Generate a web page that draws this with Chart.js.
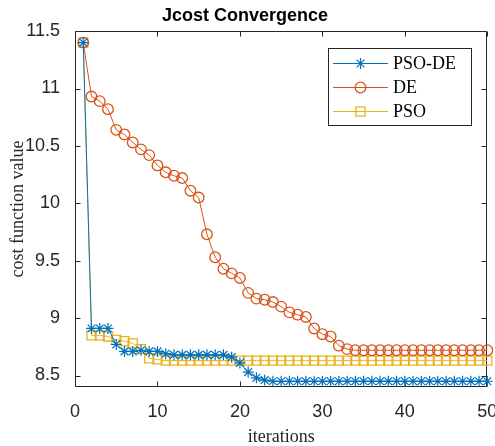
<!DOCTYPE html>
<html>
<head>
<meta charset="utf-8">
<script src="https://cdn.jsdelivr.net/npm/chart.js@4"></script>
<style>
  html, body { margin: 0; padding: 0; background: #fff; }
  canvas { display: block; }
</style>
</head>
<body>
<canvas id="c" width="495" height="446"></canvas>
<script>
// ---- data ----
const iterations = [1,2,3,4,5,6,7,8,9,10,11,12,13,14,15,16,17,18,19,20,21,22,23,24,25,
  26,27,28,29,30,31,32,33,34,35,36,37,38,39,40,41,42,43,44,45,46,47,48,49,50];
const psoDE = [11.40, 8.91, 8.91, 8.91, 8.77, 8.71, 8.71, 8.72, 8.71, 8.71,
  8.69, 8.68, 8.68, 8.68, 8.68, 8.68, 8.68, 8.68, 8.66, 8.61,
  8.53, 8.48, 8.46, 8.45, 8.45, 8.45, 8.45, 8.45, 8.45, 8.45,
  8.45, 8.45, 8.45, 8.45, 8.45, 8.45, 8.45, 8.45, 8.45, 8.45,
  8.45, 8.45, 8.45, 8.45, 8.45, 8.45, 8.45, 8.45, 8.45, 8.45];
const de = [11.40, 10.93, 10.89, 10.82, 10.64, 10.60, 10.53, 10.47, 10.42, 10.33,
  10.27, 10.24, 10.22, 10.11, 10.05, 9.73, 9.53, 9.43, 9.39, 9.35,
  9.22, 9.17, 9.16, 9.14, 9.10, 9.05, 9.03, 9.01, 8.91, 8.86,
  8.84, 8.76, 8.73, 8.72, 8.72, 8.72, 8.72, 8.72, 8.72, 8.72,
  8.72, 8.72, 8.72, 8.72, 8.72, 8.72, 8.72, 8.72, 8.72, 8.72];
const pso = [11.40, 8.85, 8.85, 8.84, 8.81, 8.80, 8.78, 8.73, 8.65, 8.64,
  8.63, 8.63, 8.63, 8.63, 8.63, 8.63, 8.63, 8.63, 8.63, 8.63,
  8.63, 8.63, 8.63, 8.63, 8.63, 8.63, 8.63, 8.63, 8.63, 8.63,
  8.63, 8.63, 8.63, 8.63, 8.63, 8.63, 8.63, 8.63, 8.63, 8.63,
  8.63, 8.63, 8.63, 8.63, 8.63, 8.63, 8.63, 8.63, 8.63, 8.63];
const seriesNames = ['PSO-DE', 'DE', 'PSO'];
const xTicks = [0, 10, 20, 30, 40, 50];
const yTicks = [8.5, 9, 9.5, 10, 10.5, 11, 11.5];
const yTickLabels = ['8.5', '9', '9.5', '10', '10.5', '11', '11.5'];

const AX = '#262626';
const SANS = "'Liberation Sans', Arial, Helvetica, sans-serif";
const SERIF = "'Liberation Serif', 'Times New Roman', serif";

function pts(arr) { return iterations.map((x, i) => ({ x: x, y: arr[i] })); }

const frameAndLegend = {
  id: 'frameAndLegend',
  beforeDatasetsDraw(chart) {
    const { ctx, chartArea: a, scales } = chart;
    ctx.save();
    ctx.strokeStyle = AX;
    ctx.lineWidth = 1;
    const L = Math.round(a.left) + 0.5, R = Math.round(a.right) - 0.5;
    const T = Math.round(a.top) + 0.5, B = Math.round(a.bottom) - 0.5;
    ctx.beginPath();
    ctx.rect(L, T, R - L, B - T);
    const tl = 5;
    xTicks.forEach(v => {
      const x = Math.round(scales.x.getPixelForValue(v)) + 0.5;
      ctx.moveTo(x, B); ctx.lineTo(x, B - tl);
      ctx.moveTo(x, T); ctx.lineTo(x, T + tl);
    });
    yTicks.forEach(v => {
      const y = Math.round(scales.y.getPixelForValue(v)) + 0.5;
      ctx.moveTo(L, y); ctx.lineTo(L + tl, y);
      ctx.moveTo(R, y); ctx.lineTo(R - tl, y);
    });
    ctx.stroke();
    ctx.restore();
  },
  afterDraw(chart) {
    const { ctx } = chart;
    const bx = 328.5, by = 48.5, bw = 143, bh = 77;
    ctx.save();
    ctx.fillStyle = '#fff';
    ctx.strokeStyle = AX;
    ctx.lineWidth = 1;
    ctx.fillRect(bx, by, bw, bh);
    ctx.strokeRect(bx, by, bw, bh);
    const rows = [63.5, 87.5, 111.5];
    chart.data.datasets.forEach((ds, i) => {
      const y = rows[i];
      ctx.strokeStyle = ds.borderColor;
      ctx.lineWidth = ds.borderWidth;
      ctx.beginPath();
      ctx.moveTo(333, y); ctx.lineTo(388, y);
      ctx.stroke();
      ctx.lineWidth = ds.pointBorderWidth;
      ctx.strokeStyle = ds.pointBorderColor;
      ctx.fillStyle = 'rgba(0,0,0,0)';
      Chart.helpers.drawPoint(ctx, {
        pointStyle: ds.pointStyle, radius: ds.pointRadius, borderWidth: ds.pointBorderWidth, rotation: 0
      }, 360.5, y);
      ctx.fillStyle = '#000';
      ctx.font = '18px ' + SERIF;
      ctx.textAlign = 'left';
      ctx.textBaseline = 'middle';
      ctx.fillText(ds.label, 393, y + 1);
    });
    ctx.restore();
  }
};

new Chart(document.getElementById('c'), {
  type: 'line',
  data: {
    datasets: [
      { label: seriesNames[0], data: pts(psoDE), borderColor: '#0072BD', borderWidth: 1,
        pointStyle: 'star', pointRadius: 5.5, pointBorderWidth: 1.2, pointBorderColor: '#0072BD',
        pointBackgroundColor: 'rgba(0,0,0,0)', clip: false },
      { label: seriesNames[1], data: pts(de), borderColor: '#D95319', borderWidth: 1,
        pointStyle: 'circle', pointRadius: 5.3, pointBorderWidth: 1.3, pointBorderColor: '#D95319',
        pointBackgroundColor: 'rgba(0,0,0,0)', clip: false },
      { label: seriesNames[2], data: pts(pso), borderColor: '#EDB120', borderWidth: 1,
        pointStyle: 'rect', pointRadius: 6.4, pointBorderWidth: 1.3, pointBorderColor: '#EDB120',
        pointBackgroundColor: 'rgba(0,0,0,0)', clip: false }
    ]
  },
  options: {
    responsive: false,
    animation: false,
    events: [],
    layout: { padding: { left: 0, right: 5, top: 0, bottom: 0 } },
    plugins: {
      legend: { display: false },
      tooltip: { enabled: false },
      title: {
        display: true,
        text: 'Jcost Convergence',
        color: '#000',
        font: { family: SANS, size: 18, weight: 'bold', lineHeight: 1.2 },
        padding: { top: 5, bottom: 4.5 }
      }
    },
    scales: {
      x: {
        type: 'linear',
        min: 0, max: 50,
        grid: { display: false },
        border: { display: false },
        afterBuildTicks: s => { s.ticks = xTicks.map(v => ({ value: v })); },
        afterFit: s => { s.height = 59; s.paddingLeft = 0; s.paddingRight = 0; },
        ticks: { color: AX, font: { family: SANS, size: 18 }, padding: 6, maxRotation: 0, autoSkip: false },
        title: { display: true, text: 'iterations', color: AX,
          font: { family: SERIF, size: 18, lineHeight: 1.0 }, padding: { top: 0, bottom: 0 } }
      },
      y: {
        type: 'linear',
        min: 8.4, max: 11.5,
        grid: { display: false },
        border: { display: false },
        afterBuildTicks: s => { s.ticks = yTicks.map(v => ({ value: v })); },
        afterFit: s => { s.width = 75; s.paddingTop = 0; s.paddingBottom = 0; },
        ticks: { color: AX, font: { family: SANS, size: 18 }, padding: 7, autoSkip: false,
          callback: (v) => yTickLabels[yTicks.indexOf(v)] },
        title: { display: true, text: 'cost function value', color: AX,
          font: { family: SERIF, size: 18, lineHeight: 1.2 }, padding: { top: 7, bottom: 0 } }
      }
    }
  },
  plugins: [frameAndLegend]
});
</script>
</body>
</html>
